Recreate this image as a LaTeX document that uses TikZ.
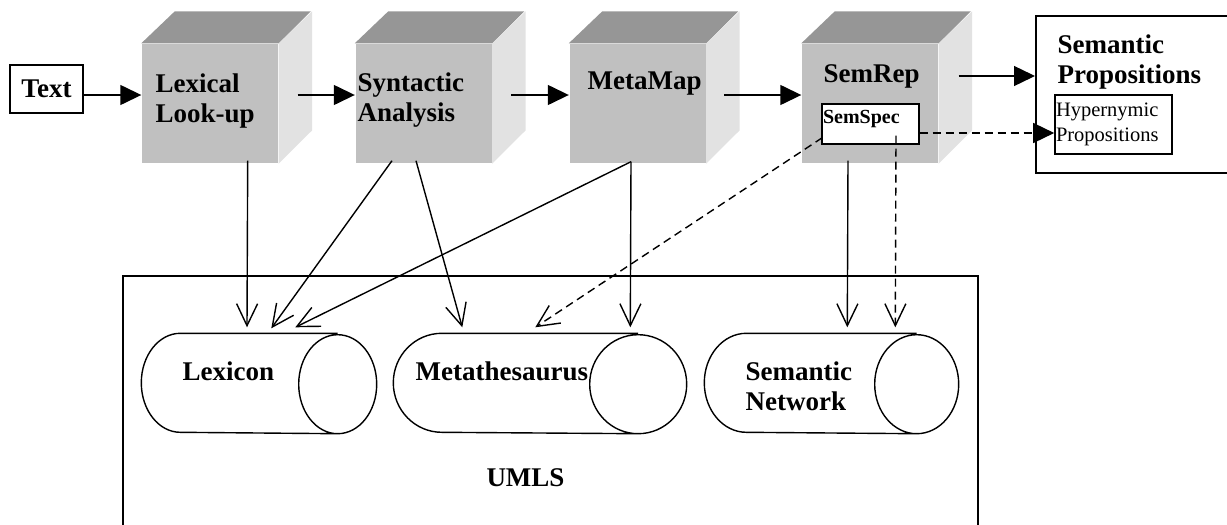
\documentclass[tikz,border=0pt]{standalone}
\usepackage{fontspec}
\setmainfont{Liberation Serif}
\usetikzlibrary{arrows.meta}
\definecolor{cubefront}{RGB}{192,192,192}
\definecolor{cubetop}{RGB}{150,150,150}
\definecolor{cubeside}{RGB}{226,226,226}

\begin{document}
\begin{tikzpicture}[
  x=1pt, y=-1pt,
  line width=1.4pt,
  cube/.style={fill=cubefront, minimum width=136pt, minimum height=119pt, inner sep=0pt},
  bigtext/.style={font=\fontsize{27}{30}\selectfont\bfseries, align=left, inner sep=0pt},
  plainbox/.style={draw, line width=2pt, inner sep=0pt},
  drum/.style={minimum height=99pt, inner sep=0pt},
  pipe/.style={-{Triangle[length=21pt, width=20pt]}},
  feed/.style={-{Straight Barb[length=22pt, width=21pt]}},
  hint/.style={dash pattern=on 8pt off 5pt},
]
\useasboundingbox (0,0) rectangle (1227,525);

% Processing cubes: front faces first, then top and side
\node[cube] (lex) at (210,103.5) {};
\node[cube] (syn) at (423.5,103.5) {};
\node[cube] (mm) at (637.5,103.5) {};
\node[cube] (sr) at (870,103.5) {};
\foreach \c in {lex,syn,mm,sr}{
  \fill[cubetop] (\c.north west) -- ++(33.5,-32) -- ++(136,0) -- (\c.north east) -- cycle;
  \fill[cubeside] (\c.north east) -- ++(33.5,-32) -- ++(0,119) -- (\c.south east) -- cycle;
}
\node[bigtext, anchor=north west] (lexlbl) at (155,72.6) {Lexical\\Look-up};
\node[bigtext, anchor=north west] (synlbl) at (357,72.3) {Syntactic\\Analysis};
\node[bigtext, anchor=base west] (mmlbl) at (587,89) {MetaMap};
\node[bigtext, anchor=base west] (srlbl) at (823,82) {SemRep};
\node[draw, line width=1.4pt, fill=white, minimum width=97pt, minimum height=40pt, text width=95pt, text depth=14pt,
  inner xsep=1pt, inner ysep=0pt, align=left, font=\fontsize{20}{22}\selectfont\bfseries] (ss) at (870.5,124) {SemSpec};

% Input and output
\node[plainbox, minimum width=73pt, minimum height=48pt, font=\fontsize{27}{30}\selectfont\bfseries] (txt) at (46.5,89) {Text};
\node[plainbox, minimum width=210pt, minimum height=157pt] (sp) at (1141,94.5) {};
\node[bigtext, anchor=north west] (splbl) at (1057,33.6) {Semantic\\Propositions};
\node[draw, line width=1.6pt, minimum width=117pt, minimum height=59pt, text width=115pt, inner xsep=1pt, inner ysep=0pt,
  align=left, font=\fontsize{20.5}{25}\selectfont] (hyp) at (1113.5,124.5) {Hypernymic\\Propositions};

% UMLS knowledge sources
\node[plainbox, minimum width=855pt, minimum height=270pt] (umls) at (550.5,411) {};
\node[drum, minimum width=234pt] (lexicon) at (259,383.5) {};
\node[drum, minimum width=292pt] (metathes) at (540,383.5) {};
\node[drum, minimum width=253pt] (semnet) at (831.5,383.5) {};
\foreach \c/\r in {lexicon/39, metathes/48.5, semnet/42}{
  \draw ([xshift=-\r pt]\c.north east) -- ([xshift=\r pt]\c.north west)
    arc[start angle=90, end angle=270, x radius=\r pt, y radius=49.5pt]
    -- ([xshift=-\r pt]\c.south east)
    arc[start angle=-90, end angle=270, x radius=\r pt, y radius=49.5pt];
}
\node[bigtext, anchor=base west] (lexiconlbl) at (182,380) {Lexicon};
\node[bigtext, anchor=base west] (metathlbl) at (415,380) {Metathesaurus};
\node[bigtext, anchor=north west] (semnetlbl) at (745,360.6) {Semantic\\Network};
\node[bigtext, anchor=base] (umlslbl) at (525.5,486) {UMLS};

% Pipeline
\draw[pipe] ([yshift=-6pt]txt.east) -- ([yshift=8.5pt]lex.west);
\draw[pipe] ([xshift=19pt, yshift=8.5pt]lex.east) -- ([yshift=8.5pt]syn.west);
\draw[pipe] ([xshift=19pt, yshift=8.5pt]syn.east) -- ([yshift=8.5pt]mm.west);
\draw[pipe] ([xshift=18pt, yshift=8.5pt]mm.east) -- ([yshift=8.5pt]sr.west);
\draw[pipe] ([xshift=20pt, yshift=27.5pt]sr.east) -- ([yshift=18.5pt]sp.west);
\draw[pipe, hint] ([yshift=-9pt]ss.east) -- ([yshift=-8.5pt]hyp.west);

% Lookups into UMLS
\draw[feed] ([xshift=37.7pt, yshift=3pt]lex.south) -- ([xshift=105.7pt, yshift=6pt]lexicon.north west);
\draw[feed] ([xshift=-31.5pt, yshift=3pt]syn.south) -- ([xshift=130pt, yshift=5pt]lexicon.north west);
\draw[feed] ([xshift=-7.5pt, yshift=3pt]syn.south) -- ([xshift=69pt, yshift=6pt]metathes.north west);
\draw[feed] ([xshift=-6.5pt, yshift=2pt]mm.south) -- ([xshift=154pt, yshift=6pt]lexicon.north west);
\draw[feed] ([xshift=-6.5pt, yshift=2pt]mm.south) -- ([xshift=237pt, yshift=6pt]metathes.north west);
\draw[feed] ([xshift=-22pt, yshift=3pt]sr.south) -- ([xshift=143pt, yshift=6pt]semnet.north west);
\draw[feed, hint] ([xshift=1pt, yshift=7pt]ss.south west) -- ([xshift=142pt, yshift=6pt]metathes.north west);
\draw[feed, hint] ([xshift=25.5pt, yshift=9pt]ss.south) -- ([xshift=191pt, yshift=6pt]semnet.north west);
\end{tikzpicture}
\end{document}
